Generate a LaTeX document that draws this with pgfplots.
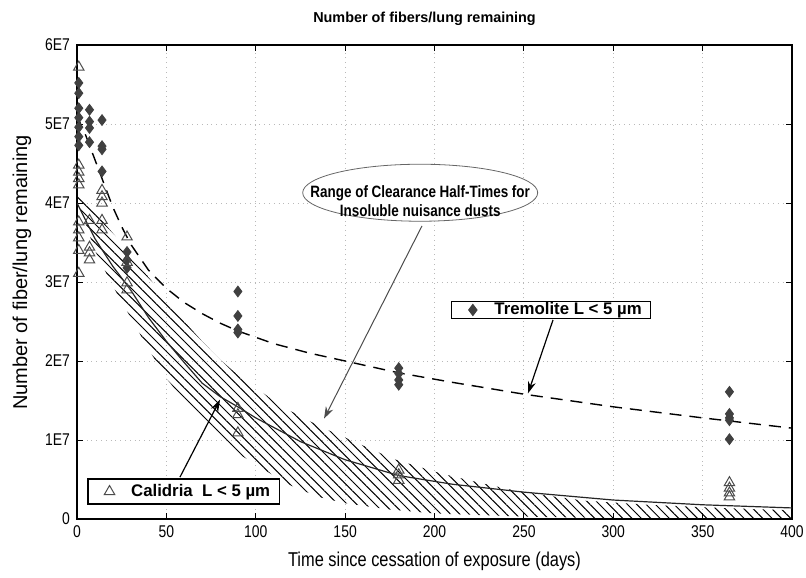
\documentclass[border=0pt]{standalone}
\usepackage{fontspec}
\setmainfont{Liberation Sans}
\newfontfamily\narrowfont[FakeStretch=0.82]{Liberation Sans}
\usepackage{pgfplots}
\usepackage{pgfplotstable}
\pgfplotsset{compat=1.18}
\usepgfplotslibrary{fillbetween}
\usetikzlibrary{patterns.meta,arrows.meta,shapes.geometric}

\pgfplotstableread{
x y
1 5.52
1 5.39
1 5.20
1 5.08
1 4.96
1 4.84
1 4.73
7 5.18
7 5.03
7 4.95
7 4.77
14 5.05
14 4.72
14 4.68
14 4.40
28 3.38
28 3.28
28 3.18
90 2.88
90 2.57
90 2.40
90 2.36
180 1.91
180 1.84
180 1.76
180 1.70
365 1.61
365 1.33
365 1.28
365 1.25
365 1.01
}\tremolite

\pgfplotstableread{
x y
1 5.72
1 4.48
1 4.39
1 4.31
1 4.23
1 3.76
1 3.66
1 3.56
1 3.40
1 3.11
7 3.78
7 3.44
7 3.37
7 3.28
14 4.16
14 4.08
14 4.00
14 3.78
14 3.66
28 3.57
28 3.25
28 2.99
28 2.90
90 1.40
90 1.32
90 1.09
180 0.62
180 0.56
180 0.49
365 0.46
365 0.39
365 0.33
365 0.28
}\calidria

\pgfplotstableread{
x y
0 5.10
5 4.85
10 4.55
15 4.25
20 3.95
25 3.70
30 3.48
40 3.15
50 2.92
60 2.74
70 2.60
80 2.48
90 2.38
110 2.22
130 2.10
150 2.00
180 1.85
210 1.73
250 1.58
300 1.42
350 1.28
400 1.15
}\tremfit

\pgfplotstableread{
x y
0 4.00
10 3.55
20 3.20
30 2.90
40 2.55
50 2.25
60 1.98
70 1.72
80 1.55
90 1.42
100 1.28
125 0.98
150 0.75
180 0.55
210 0.44
250 0.34
300 0.24
350 0.18
400 0.14
}\calfit

\pgfplotstableread{
x y
0 4.15
10 3.88
20 3.62
30 3.36
40 3.06
50 2.78
60 2.50
70 2.25
80 2.02
90 1.82
100 1.66
115 1.42
130 1.24
140 1.13
155 0.98
177 0.76
203 0.58
225 0.46
245 0.36
265 0.29
285 0.23
320 0.18
360 0.14
400 0.11
}\bandup

\pgfplotstableread{
x y
0 4.05
10 3.40
20 2.95
30 2.55
40 2.15
50 1.78
60 1.50
70 1.25
80 1.03
90 0.83
100 0.69
110 0.55
120 0.42
135 0.28
150 0.20
175 0.12
200 0.07
250 0.03
300 0.01
400 0.00
}\bandlow

\begin{document}
\begin{tikzpicture}
\pgfplotsset{
  common/.style={
    at={(0,0)}, anchor=south west,
    scale only axis, width=357.5pt, height=237pt,
    xmin=0, xmax=400, ymin=0, ymax=6,
  },
  boxlegend/.style={
    draw=black, line width=0.6pt, fill=white, anchor=center,
    font=\bfseries\fontsize{8.4}{10}\selectfont,
    inner xsep=2pt, legend cell align=left,
    nodes={inner ysep=0.5pt, inner xsep=2.5pt},
  },
  padmark/.style={
    legend image code/.code={
      \path (-8.5pt,0pt) (8pt,0pt);
      \draw[##1] plot coordinates {(0pt,0pt)};
    }
  },
}
\begin{axis}[
  common,
  xtick={0,50,...,400},
  ytick={0,1,...,6},
  yticklabels={0,1E7,2E7,3E7,4E7,5E7,6E7},
  tick align=inside,
  major tick length=3pt,
  grid=major,
  grid style={gray!55, dotted, line width=0.5pt},
  axis line style={line width=0.8pt},
  tick style={black, line width=0.5pt},
  ticklabel style={font=\narrowfont\fontsize{8.5}{10}\selectfont},
  /pgf/number format/assume math mode=true,
  xlabel={Time since cessation of exposure (days)},
  ylabel={Number of fiber/lung remaining},
  xlabel style={font=\narrowfont\fontsize{10}{12}\selectfont},
  ylabel style={font=\fontsize{10}{12}\selectfont, at={(ticklabel cs:0.52)}},
  title={Number of fibers/lung remaining},
  title style={font=\bfseries\fontsize{7.2}{9}\selectfont, xshift=-5pt},
  legend style={boxlegend, at={(0.663,0.441)}, inner ysep=0pt},
]
\addplot[name path=up, draw=none, forget plot] table {\bandup};
\addplot[name path=low, draw=none, forget plot] table {\bandlow};
\addplot[pattern={Lines[angle=-45,distance=3.3pt,line width=0.5pt]}, draw=none, forget plot]
  fill between[of=up and low];
\addplot[black, line width=0.7pt, dash pattern=on 6pt off 4pt, forget plot] table {\tremfit};
\addplot[black!85, line width=0.6pt, forget plot] table {\calfit};
\addplot[only marks, mark=diamond*, mark size=2.7pt,
  mark options={fill=black!75, draw=black!75}, padmark] table {\tremolite};
\addlegendentry{Tremolite L < 5 µm}

\node[draw=gray!80!black, ellipse, minimum width=117.5pt, minimum height=28.5pt,
  inner sep=0pt, fill=white] at (axis cs:192,4.13) {};
\node[align=center, inner sep=0pt,
  font=\narrowfont\bfseries\fontsize{8.2}{9.5}\selectfont]
  at (axis cs:192,4.02) {Range of Clearance Half-Times for\\Insoluble nuisance dusts};
\draw[gray!60!black, line width=0.5pt, -{Stealth[length=6pt,width=4pt]}]
  (axis cs:193,3.71) -- (axis cs:138.2,1.27);
\draw[black, line width=0.6pt, -{Stealth[length=6pt,width=4pt]}]
  (axis cs:266.3,2.52) -- (axis cs:252.3,1.59);
\draw[black, line width=0.6pt, -{Stealth[length=6pt,width=4pt]}]
  (axis cs:57.6,0.53) -- (axis cs:80,1.51);
\end{axis}

\begin{axis}[
  common,
  hide axis,
  legend style={boxlegend, at={(0.149,0.058)}, inner ysep=2pt},
]
\addplot[only marks, mark=triangle, mark size=3pt,
  mark options={draw=black!70, fill=white, line width=0.5pt}, padmark] table {\calidria};
\addlegendentry{Calidria\ \ L < 5 µm}
\end{axis}
\pgfresetboundingbox
\path[use as bounding box] (-38.5pt,-29pt) rectangle (364.5pt,259.5pt);
\end{tikzpicture}
\end{document}
